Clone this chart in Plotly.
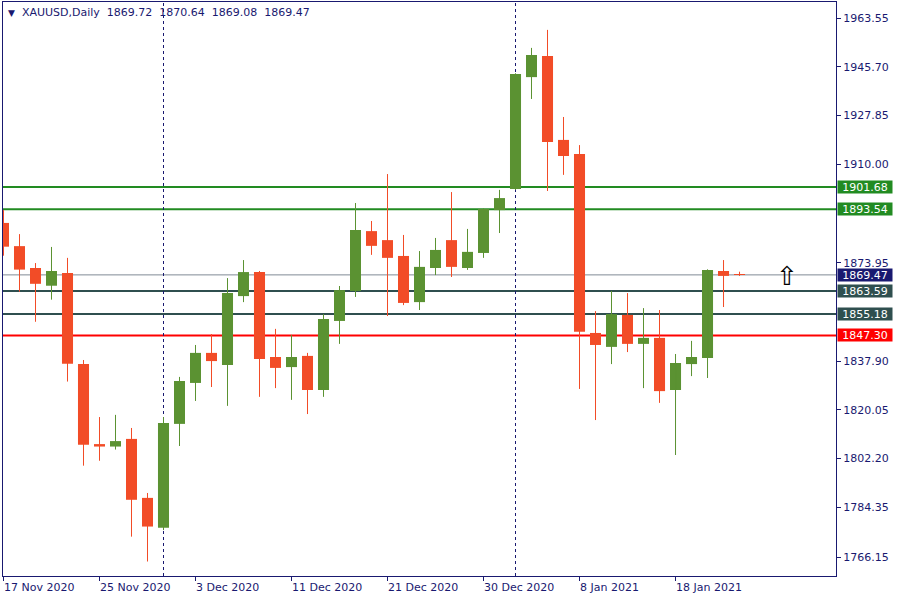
import plotly.graph_objects as go

# ---------------- data ----------------
dates = [
    "2020-11-17", "2020-11-18", "2020-11-19", "2020-11-20", "2020-11-23", "2020-11-24",
    "2020-11-25", "2020-11-26", "2020-11-27", "2020-11-30",
    "2020-12-01", "2020-12-02", "2020-12-03", "2020-12-04", "2020-12-07", "2020-12-08",
    "2020-12-09", "2020-12-10", "2020-12-11", "2020-12-14", "2020-12-15", "2020-12-16",
    "2020-12-17", "2020-12-18", "2020-12-21", "2020-12-22", "2020-12-23", "2020-12-24",
    "2020-12-28", "2020-12-29", "2020-12-30", "2020-12-31",
    "2021-01-04", "2021-01-05", "2021-01-06", "2021-01-07", "2021-01-08", "2021-01-11",
    "2021-01-12", "2021-01-13", "2021-01-14", "2021-01-15", "2021-01-18", "2021-01-19",
    "2021-01-20", "2021-01-21", "2021-01-22",
]
opens = [1888.5, 1880.0, 1872.0, 1865.5, 1870.2, 1836.8, 1807.5, 1806.6, 1809.4, 1787.8,
         1776.9, 1814.9, 1829.9, 1840.9, 1836.5, 1861.7, 1870.5, 1839.4, 1835.7, 1839.8,
         1827.3, 1852.6, 1863.6, 1885.5, 1882.2, 1876.4, 1859.5, 1872.0, 1882.2, 1872.0,
         1877.5, 1893.2, 1900.9, 1941.9, 1949.6, 1918.9, 1913.7, 1848.2, 1843.1, 1854.8,
         1844.2, 1846.4, 1827.3, 1836.8, 1839.0, 1870.9, 1869.72]
highs = [1893.2, 1884.4, 1873.8, 1879.7, 1875.7, 1838.3, 1817.4, 1818.2, 1813.4, 1789.6,
         1817.4, 1832.1, 1843.8, 1847.8, 1868.3, 1874.9, 1870.9, 1849.7, 1847.5, 1840.9,
         1855.1, 1865.4, 1895.8, 1889.2, 1906.4, 1884.1, 1878.2, 1883.0, 1899.8, 1886.3,
         1893.8, 1900.6, 1943.3, 1952.6, 1959.2, 1927.3, 1917.0, 1856.2, 1863.6, 1862.8,
         1857.3, 1856.6, 1840.5, 1845.3, 1871.5, 1874.9, 1870.64]
lows = [1876.5, 1863.3, 1852.3, 1860.4, 1830.4, 1799.6, 1801.4, 1805.5, 1773.6, 1764.5,
        1776.0, 1806.8, 1823.3, 1828.4, 1821.5, 1859.5, 1824.8, 1828.0, 1823.7, 1818.5,
        1824.8, 1844.2, 1861.4, 1876.8, 1854.4, 1858.4, 1856.6, 1869.4, 1868.7, 1871.3,
        1875.7, 1884.8, 1900.6, 1933.9, 1900.2, 1906.1, 1827.7, 1816.3, 1836.8, 1841.2,
        1828.0, 1822.6, 1803.5, 1832.4, 1831.7, 1857.7, 1869.08]
closes = [1879.8, 1871.4, 1866.2, 1870.9, 1836.9, 1807.3, 1806.6, 1808.6, 1787.1, 1777.3,
          1815.2, 1830.6, 1840.9, 1837.9, 1862.8, 1870.5, 1838.7, 1835.4, 1839.4, 1827.3,
          1853.3, 1863.9, 1885.9, 1880.1, 1875.7, 1859.2, 1872.4, 1878.6, 1872.4, 1877.9,
          1893.6, 1897.6, 1943.0, 1950.0, 1918.1, 1913.0, 1848.6, 1843.8, 1855.1, 1844.2,
          1846.4, 1826.9, 1837.2, 1839.4, 1871.3, 1869.1, 1869.47]

date_labels = ["17 Nov 2020", "25 Nov 2020", "3 Dec 2020", "11 Dec 2020",
               "21 Dec 2020", "30 Dec 2020", "8 Jan 2021", "18 Jan 2021"]
date_label_days = ["2020-11-17", "2020-11-25", "2020-12-03", "2020-12-11",
                   "2020-12-21", "2020-12-30", "2021-01-08", "2021-01-18"]
separator_days = ["2020-12-01", "2021-01-04"]

price_ticks = [1963.55, 1945.70, 1927.85, 1910.00, 1873.95, 1837.90,
               1820.05, 1802.20, 1784.35, 1766.15]

level_values = [1901.68, 1893.54, 1863.59, 1855.18, 1847.30]
level_colors = ["#228B22", "#228B22", "#2F4F4F", "#2F4F4F", "#FF0000"]
bid_price = 1869.47
symbol_name = "XAUUSD,Daily"
header_ohlc = ["1869.72", "1870.64", "1869.08", "1869.47"]
signal_bar_offset = 3  # buy arrow drawn 3 bars right of last bar

# ---------------- style ----------------
BULL = "#5B9232"
BEAR = "#F24C27"
NAVY = "#191970"
FONT = "DejaVu Sans"

x = list(range(len(dates)))
is_bull = [c >= o for o, c in zip(opens, closes)]

fig = go.Figure()

# wicks
for flag, col in ((True, BULL), (False, BEAR)):
    wx, wy = [], []
    for i in x:
        if is_bull[i] == flag:
            wx += [i, i, None]
            wy += [lows[i], highs[i], None]
    fig.add_trace(go.Scatter(x=wx, y=wy, mode="lines", line=dict(color=col, width=1),
                             hoverinfo="skip", showlegend=False))

# bodies
body_base = [min(o, c) for o, c in zip(opens, closes)]
body_h = [max(abs(c - o), 0.3) for o, c in zip(opens, closes)]
fig.add_trace(go.Bar(x=x, y=body_h, base=body_base, width=0.69,
                     marker=dict(color=[BULL if b else BEAR for b in is_bull], line=dict(width=0)),
                     showlegend=False, hoverinfo="skip"))

shapes = []
# horizontal levels
for v, c in zip(level_values, level_colors):
    shapes.append(dict(type="line", xref="paper", x0=0, x1=1, yref="y", y0=v, y1=v,
                       line=dict(color=c, width=2), layer="below"))
shapes.append(dict(type="line", xref="paper", x0=0, x1=1, yref="y", y0=bid_price, y1=bid_price,
                   line=dict(color="#808B96", width=1), layer="below"))
# period separators
for d in separator_days:
    i = dates.index(d)
    shapes.append(dict(type="line", xref="x", x0=i, x1=i, yref="paper", y0=0, y1=1,
                       line=dict(color=NAVY, width=1, dash="3px,3px"), layer="below"))

annotations = []
# header
gap = "&nbsp;&nbsp;"
header_text = ("<span style='font-size:9px'>▼</span>&nbsp;&nbsp;" + symbol_name + gap
               + gap.join(header_ohlc))
annotations.append(dict(xref="paper", yref="paper", x=0, y=1, xanchor="left", yanchor="top",
                        xshift=3, yshift=-2, showarrow=False, text=header_text,
                        font=dict(family=FONT, size=11, color=NAVY)))
# date labels
for lab, d in zip(date_labels, date_label_days):
    annotations.append(dict(xref="x", yref="paper", x=dates.index(d), y=0,
                            xanchor="left", yanchor="top", xshift=-2, yshift=-3,
                            showarrow=False, text=lab,
                            font=dict(family=FONT, size=11, color=NAVY)))
# right-side price labels
for v, c in list(zip(level_values, level_colors)) + [(bid_price, NAVY)]:
    annotations.append(dict(xref="paper", yref="y", x=1, y=v, xanchor="left", yanchor="middle",
                            xshift=1, showarrow=False, text=f"{v:.2f}", width=54, height=12,
                            bgcolor=c, borderpad=0,
                            font=dict(family=FONT, size=11, color="white")))
# buy arrow
annotations.append(dict(xref="x", yref="y", x=len(dates) - 1 + signal_bar_offset, y=bid_price,
                        showarrow=False, text="⇧", yshift=-1, xshift=-1,
                        font=dict(family=FONT, size=26, color="black")))

fig.update_layout(
    width=900, height=600,
    margin=dict(l=3, r=64, t=2, b=24),
    paper_bgcolor="white", plot_bgcolor="white",
    barmode="overlay",
    shapes=shapes, annotations=annotations,
    showlegend=False,
    xaxis=dict(range=[-0.031, 52.03], showgrid=False, zeroline=False,
               showline=True, mirror=True, linecolor=NAVY, linewidth=1,
               ticks="outside", ticklen=4, tickcolor=NAVY,
               tickvals=[dates.index(d) for d in date_label_days],
               ticktext=["" for _ in date_label_days], fixedrange=True),
    yaxis=dict(range=[1759.19, 1969.41], side="right", showgrid=False, zeroline=False,
               showline=True, mirror=True, linecolor=NAVY, linewidth=1,
               ticks="outside", ticklen=4, tickcolor=NAVY,
               tickvals=price_ticks, ticktext=[f"{t:.2f}" for t in price_ticks],
               tickfont=dict(family=FONT, size=11, color=NAVY), fixedrange=True,
               automargin=False),
)

fig.write_html("out.html", config={"displayModeBar": False},
               post_script="document.body.style.margin='0';document.body.style.overflow='hidden';")
